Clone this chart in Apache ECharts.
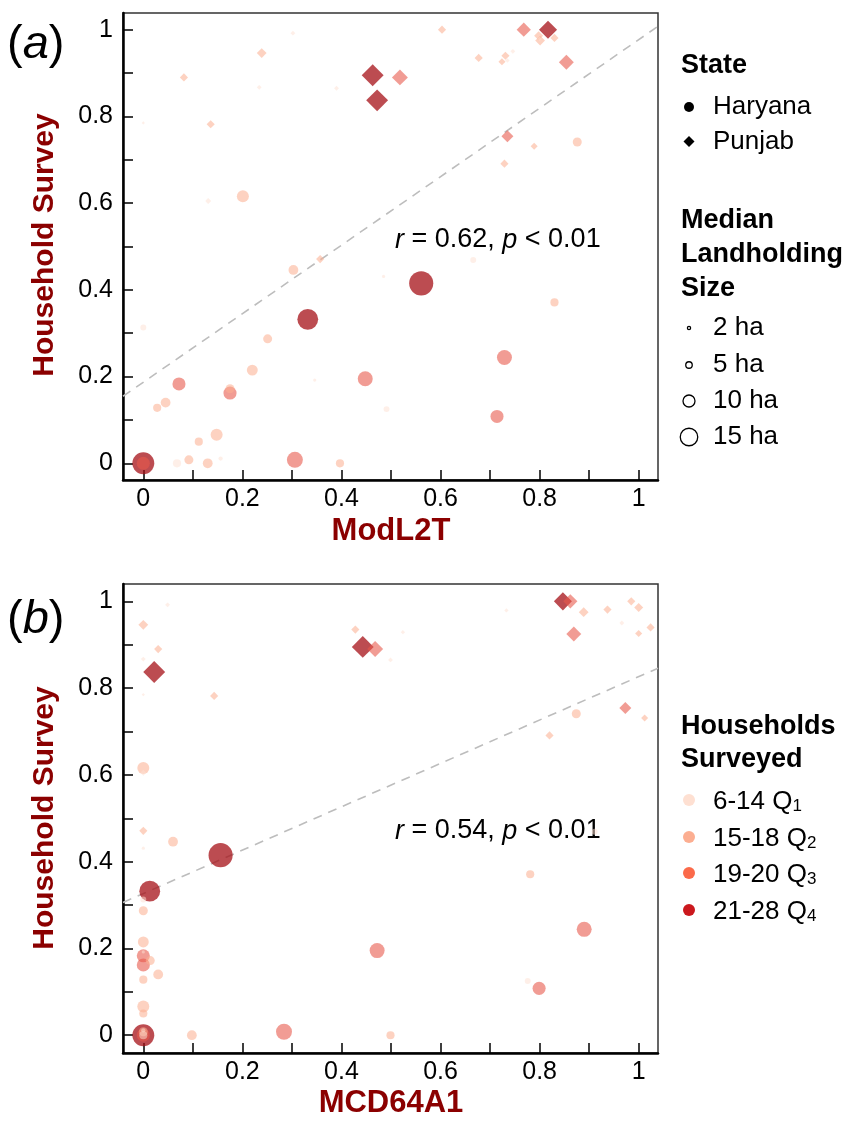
<!DOCTYPE html>
<html><head><meta charset="utf-8">
<script src="https://cdn.jsdelivr.net/npm/echarts@6/dist/echarts.min.js"></script>
<style>html,body{margin:0;padding:0;background:#fff}#c{width:848px;height:1128px}</style>
</head><body><div id="c"></div>
<script>
const FONT = '"Liberation Sans", Arial, sans-serif';

// ---------- data ----------
const state = [
  'Punjab','Punjab','Punjab','Punjab','Punjab','Punjab','Punjab','Punjab','Punjab','Punjab',
  'Punjab','Punjab','Punjab','Punjab','Punjab','Punjab','Punjab','Punjab','Punjab','Punjab',
  'Punjab','Punjab','Punjab','Punjab','Punjab','Punjab','Punjab','Punjab',
  'Haryana','Haryana','Haryana','Haryana','Haryana','Haryana','Haryana','Haryana','Haryana','Haryana',
  'Haryana','Haryana','Haryana','Haryana','Haryana','Haryana','Haryana','Haryana','Haryana','Haryana',
  'Haryana','Haryana','Haryana','Haryana','Haryana','Haryana','Haryana','Haryana','Haryana','Haryana','Haryana'
];
const modL2T = [
  0.302,0.239,0.082,0.463,0.234,0.390,0.472,0.000,0.136,0.131,
  0.603,0.768,0.817,0.798,0.801,0.830,0.677,0.731,0.724,0.746,
  0.735,0.800,0.854,0.518,0.735,0.789,0.729,0.357,
  0.201,0.876,0.303,0.000,0.332,0.251,0.220,0.072,0.175,0.175,
  0.045,0.028,0.448,0.148,0.112,0.092,0.068,0.130,0.156,0.000,
  0.000,0.306,0.397,0.346,0.485,0.491,0.561,0.666,0.830,0.729,0.714
];
const mcd64a1 = [
  0.049,0.000,0.030,0.443,0.000,0.499,0.022,0.000,0.143,0.000,
  0.985,0.862,0.847,1.000,0.889,0.937,0.428,1.024,1.000,0.966,
  0.524,0.733,0.869,0.468,0.973,1.012,0.820,0.000,
  0.000,0.874,0.060,0.000,0.013,0.000,0.000,0.000,0.000,0.014,
  0.030,0.000,0.472,0.000,0.000,0.000,0.000,0.098,0.000,0.000,
  0.000,0.284,0.499,0.000,0.000,0.776,0.156,0.911,0.781,0.890,0.799
];
const survey = [
  0.992,0.946,0.890,0.895,0.867,0.865,0.837,0.785,0.782,0.605,
  1.000,1.000,1.000,0.986,0.975,0.981,0.935,0.940,0.926,0.950,
  0.929,0.979,0.925,0.890,0.754,0.731,0.691,0.471,
  0.616,0.741,0.446,0.313,0.332,0.287,0.215,0.183,0.162,0.172,
  0.140,0.128,0.195,0.066,0.050,0.008,0.000,0.000,0.011,0.000,
  0.000,0.008,0.000,0.192,0.431,0.125,0.415,0.469,0.371,0.244,0.108
];
const quartile = [
  1,2,2,4,1,1,4,1,2,1,
  2,3,4,2,2,2,2,2,2,1,
  1,1,3,3,3,2,2,2,
  2,2,2,1,4,2,2,3,3,2,
  2,2,3,2,2,2,1,2,1,4,
  3,3,2,1,1,1,4,1,2,3,3
];
const landholding = [
  3.5,8,6.5,19,3.5,3.5,19,2,6.5,4.5,
  6.5,12,15.5,7.3,8,6.5,6.5,6.5,5.5,3.5,
  3,3,12.7,13.6,10,5.5,6.5,6.5,
  10,7.3,8,4.5,18,7.3,9,11,11,7.3,
  8,6.5,12.7,10,6.5,7.3,6.5,8,3,19,
  11,13.6,6.5,2,2,4.5,21,4.5,6.5,12.7,11
];
// fitted regression lines [panel a, panel b]
const fitIntercept = [0.187, 0.3265];
const fitSlope = [0.79, 0.50];
const corrText = ['0.62', '0.54'];
const pText = '0.01';
// ticks
const majorTicks = [0, 0.2, 0.4, 0.6, 0.8, 1];
const minorTicks = [0, 0.1, 0.2, 0.3, 0.4, 0.5, 0.6, 0.7, 0.8, 0.9, 1];
const stateLabels = ['Haryana', 'Punjab'];
const sizeLegendHa = [2, 5, 10, 15];
const hhLegend = [['6-14', '1'], ['15-18', '2'], ['19-20', '3'], ['21-28', '4']];
const xTitles = ['ModL2T', 'MCD64A1'];
const yTitle = 'Household Survey';
const panelLetters = ['a', 'b'];

// ---------- styles ----------
const pointColor = ['rgba(254,224,210,0.65)', 'rgba(252,174,145,0.7)', 'rgba(232,87,74,0.74)', 'rgba(165,15,21,0.93)'];
const legendColor = ['#fee0d2', '#fcae91', '#fb6a4a', '#cb181d'];
const darkRed = '#8b0000';
const sizeOf = ha => 1.1 * ha + 1;
const XR = [-0.041, 1.039];
const grids = [
  { left: 123, top: 13, width: 535, height: 467 },
  { left: 123, top: 584, width: 535, height: 469 }
];
const YR = [[-0.0385, 1.0385], [-0.041, 1.040]];

function buildPoints(xs) {
  const idx = survey.map((_, i) => i).sort((a, b) => landholding[b] - landholding[a]);
  return idx.map(i => ({
    value: [xs[i], survey[i]],
    symbol: state[i] === 'Punjab' ? 'diamond' : 'circle',
    symbolSize: sizeOf(landholding[i]),
    itemStyle: { color: pointColor[quartile[i] - 1] }
  }));
}
function fitLine(k) { return XR.map(x => [x, fitIntercept[k] + fitSlope[k] * x]); }

function axisCommon() {
  return {
    type: 'value',
    axisLine: { show: true, onZero: false, lineStyle: { color: '#000', width: 2.5 } },
    axisTick: { show: true, inside: true, length: 10, customValues: minorTicks, lineStyle: { color: '#000', width: 1.5 } },
    splitLine: { show: false }
  };
}
const xAxes = [0, 1].map(k => Object.assign(axisCommon(), {
  gridIndex: k, min: XR[0], max: XR[1],
  axisLabel: { customValues: majorTicks, fontSize: 25, color: '#000', fontFamily: FONT, margin: 7 }
}));
const yAxes = [0, 1].map(k => Object.assign(axisCommon(), {
  gridIndex: k, min: YR[k][0], max: YR[k][1],
  axisLabel: { customValues: majorTicks, fontSize: 25, color: '#000', fontFamily: FONT, margin: 10 }
}));

const series = [];
[modL2T, mcd64a1].forEach((xs, k) => {
  series.push({
    type: 'line', xAxisIndex: k, yAxisIndex: k, data: fitLine(k), symbol: 'none', silent: true, z: 1,
    lineStyle: { color: '#bdbdbd', width: 1.6, type: [9, 7] }
  });
  series.push({
    type: 'scatter', xAxisIndex: k, yAxisIndex: k, data: buildPoints(xs), z: 2, silent: true,
    emphasis: { disabled: true }
  });
});

// ---------- graphic text (titles, annotations, legends) ----------
const g = [];
const panelY = [[45, 245, 531, 240], [620, 818, 1103, 831]]; // letter y, y-title y, x-title y, annotation y
[0, 1].forEach(k => {
  g.push({ type: 'text', x: 7, y: panelY[k][0], style: {
    text: '{p|(}{i|' + panelLetters[k] + '}{p|)}', verticalAlign: 'middle',
    rich: { p: { fontSize: 47, fontFamily: FONT, color: '#000' }, i: { fontSize: 47, fontFamily: FONT, fontStyle: 'italic', color: '#000' } }
  } });
  g.push({ type: 'text', x: 45, y: panelY[k][1], rotation: Math.PI / 2, style: {
    text: yTitle, fontSize: 30, fontWeight: 'bold', fontFamily: FONT, fill: darkRed, align: 'center', verticalAlign: 'middle'
  } });
  g.push({ type: 'text', x: 391, y: panelY[k][2], style: {
    text: xTitles[k], fontSize: 31, fontWeight: 'bold', fontFamily: FONT, fill: darkRed, align: 'center', verticalAlign: 'middle'
  } });
  g.push({ type: 'text', x: 395, y: panelY[k][3], style: {
    text: '{i|r}{n| = ' + corrText[k] + ', }{i|p}{n| < ' + pText + '}', verticalAlign: 'middle',
    rich: { i: { fontSize: 27, fontFamily: FONT, fontStyle: 'italic', color: '#000' }, n: { fontSize: 27, fontFamily: FONT, color: '#000' } }
  } });
});
const boldT = (t, x, y) => ({ type: 'text', x, y, style: { text: t, fontSize: 27, fontWeight: 'bold', fontFamily: FONT, fill: '#000', verticalAlign: 'middle' } });
const normT = (t, x, y) => ({ type: 'text', x, y, style: { text: t, fontSize: 26, fontFamily: FONT, fill: '#000', verticalAlign: 'middle' } });
g.push(boldT('State', 681, 66));
g.push({ type: 'circle', shape: { cx: 689, cy: 107, r: 5 }, style: { fill: '#000' } });
g.push(normT(stateLabels[0], 713, 107));
g.push({ type: 'polygon', shape: { points: [[689, 136], [694.5, 141.5], [689, 147], [683.5, 141.5]] }, style: { fill: '#000' } });
g.push(normT(stateLabels[1], 713, 142));
g.push(boldT('Median', 681, 221));
g.push(boldT('Landholding', 681, 255));
g.push(boldT('Size', 681, 289));
const sizeLegY = [328, 365, 401, 437];
sizeLegendHa.forEach((ha, i) => {
  g.push({ type: 'circle', shape: { cx: 689, cy: sizeLegY[i], r: sizeOf(ha) / 2 }, style: { fill: '#fff', stroke: '#000', lineWidth: 1.3 } });
  g.push(normT(ha + ' ha', 713, sizeLegY[i]));
});
g.push(boldT('Households', 681, 727));
g.push(boldT('Surveyed', 681, 760));
const hhY = [800, 837, 873, 910];
hhLegend.forEach((h, i) => {
  g.push({ type: 'circle', shape: { cx: 689, cy: hhY[i], r: 6 }, style: { fill: legendColor[i] } });
  g.push({ type: 'text', x: 713, y: hhY[i], style: {
    text: '{m|' + h[0] + ' Q}{s|' + h[1] + '}', verticalAlign: 'middle',
    rich: { m: { fontSize: 26, fontFamily: FONT, color: '#000', lineHeight: 30, verticalAlign: 'bottom' },
            s: { fontSize: 17, fontFamily: FONT, color: '#000', lineHeight: 12, verticalAlign: 'bottom' } }
  } });
});

const chart = echarts.init(document.getElementById('c'), null, { renderer: 'canvas' });
chart.setOption({
  animation: false,
  backgroundColor: '#fff',
  grid: grids.map(gr => Object.assign({ show: true, borderColor: '#333', borderWidth: 1.5, backgroundColor: 'transparent' }, gr)),
  xAxis: xAxes,
  yAxis: yAxes,
  series,
  graphic: g
});
</script>
</body></html>
